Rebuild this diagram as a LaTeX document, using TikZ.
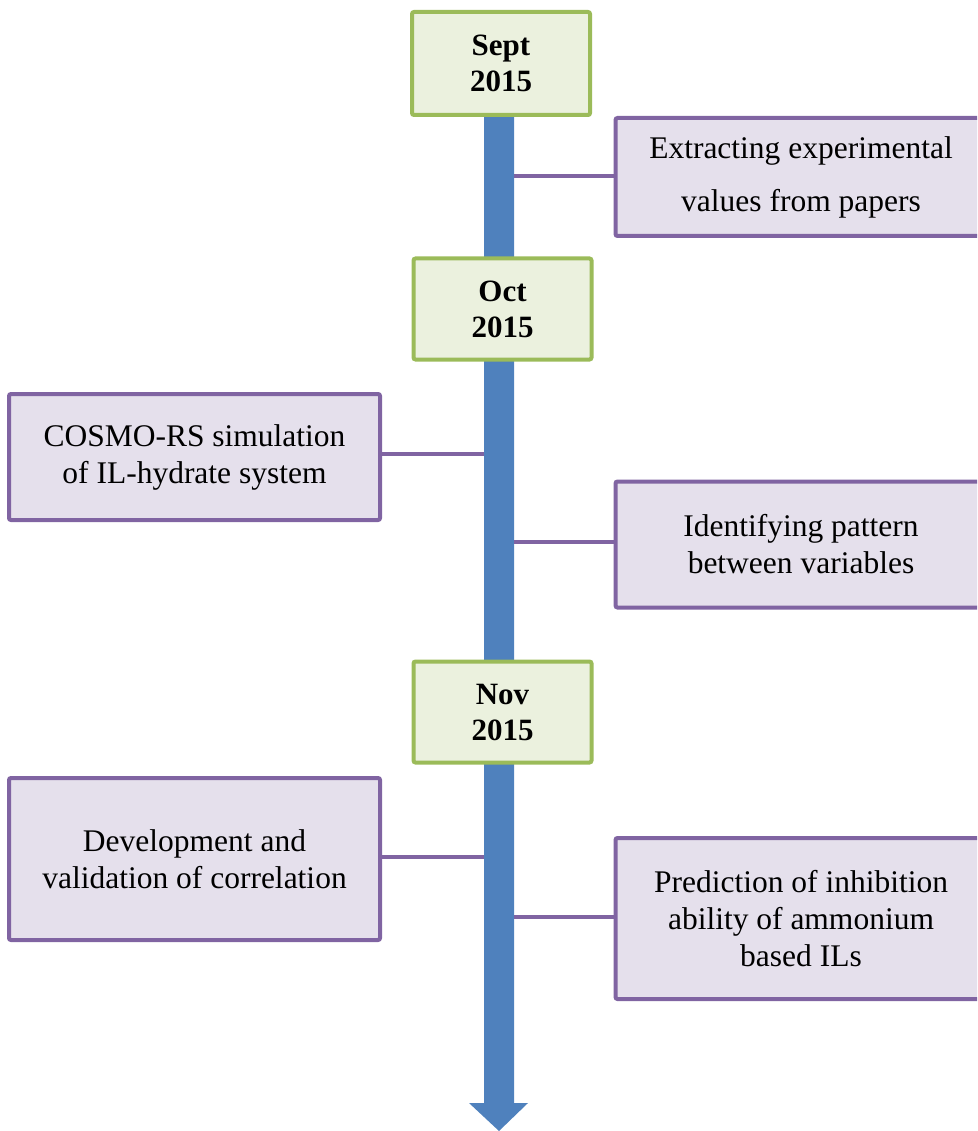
\documentclass[tikz,border=0pt]{standalone}
\usepackage{fontspec}
\setmainfont{Liberation Serif}
\definecolor{gborder}{HTML}{9BBB59}
\definecolor{gfill}{HTML}{EBF1DE}
\definecolor{pborder}{HTML}{8064A2}
\definecolor{pfill}{HTML}{E5E0EC}
\definecolor{shaftblue}{HTML}{4F81BD}
\begin{document}
\begin{tikzpicture}[x=1pt,y=-1pt,
  datebox/.style={draw=gborder, fill=gfill, line width=4pt, rounded corners=2pt,
    minimum width=178pt, minimum height=101pt, inner sep=0pt, align=center,
    font=\fontsize{31}{36}\selectfont\bfseries},
  taskbox/.style={draw=pborder, fill=pfill, line width=4pt, rounded corners=2pt,
    minimum width=371pt, inner sep=0pt, align=center,
    font=\fontsize{31.5}{37}\selectfont},
  link/.style={draw=pborder, line width=4pt}]
\useasboundingbox (0,0) rectangle (977,1131);
\clip (0,0) rectangle (977,1131);
% timeline arrow
\coordinate (top) at (499,60);
\coordinate (end) at (499,1131);
\fill[shaftblue] (484,60) -- (514,60) -- (514,1103) -- (528,1103) -- (end) -- (469,1103) -- (484,1103) -- cycle;
% shaft edge coordinates
\coordinate (r1) at (514,176);
\coordinate (l1) at (484,454);
\coordinate (r2) at (514,542);
\coordinate (l2) at (484,857);
\coordinate (r3) at (514,917);
% date boxes
\node[datebox, minimum height=103pt] (sept) at (501,63.5) {Sept\\2015};
\node[datebox] (oct) at (502.5,309) {Oct\\2015};
\node[datebox] (nov) at (502.5,712) {Nov\\2015};
% task boxes
\node[taskbox, minimum height=118pt, font=\fontsize{31.5}{53}\selectfont] (ext) at (801,177) {Extracting experimental\\values from papers};
\node[taskbox, minimum height=126pt] (cosmo) at (194.5,457) {COSMO-RS simulation\\of IL-hydrate system};
\node[taskbox, minimum height=126pt] (ident) at (801,544.5) {Identifying pattern\\between variables};
\node[taskbox, minimum height=162pt] (dev) at (194.5,859) {Development and\\validation of correlation};
\node[taskbox, minimum height=161pt] (pred) at (801,918.5) {Prediction of inhibition\\ability of ammonium\\based ILs};
% connectors
\draw[link] (r1) -- (r1 -| ext.west);
\draw[link] (l1) -- (l1 -| cosmo.east);
\draw[link] (r2) -- (r2 -| ident.west);
\draw[link] (l2) -- (l2 -| dev.east);
\draw[link] (r3) -- (r3 -| pred.west);
\end{tikzpicture}
\end{document}
